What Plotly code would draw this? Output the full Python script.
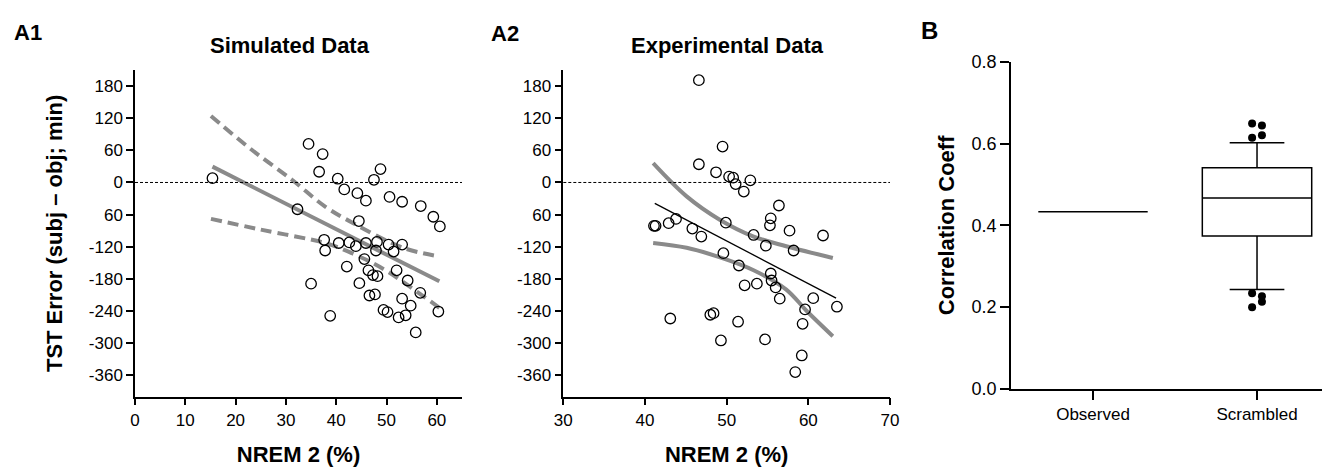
import plotly.graph_objects as go

# page body has an 8px default margin; size the figure so it fills the 1330x470 window exactly
OFF = 8
W, H = 1330 - OFF, 470 - OFF

# ---------------- data ----------------
sim_x = [15.4, 34.5, 37.3, 36.6, 40.3, 41.6, 44.2, 45.9, 47.5, 48.8, 50.6, 53.1, 56.8, 59.3, 60.6,
         32.3, 44.5, 37.6, 37.8, 40.5, 42.6, 43.9, 45.9, 48.1, 47.9, 50.4, 51.4, 53.1, 45.6, 42.1,
         46.4, 47.3, 48.2, 52.0, 54.2, 44.6, 35.0, 56.7, 46.6, 47.7, 53.1, 54.8, 49.4, 50.2, 60.3,
         38.8, 52.4, 53.8, 55.8]
sim_y = [8, 72, 53, 20, 7, -13, -20, -34, 5, 25, -27, -36, -44, -64, -82,
         -50, -72, -107, -127, -113, -112, -119, -113, -111, -127, -116, -129, -116, -143, -157,
         -164, -173, -175, -164, -183, -188, -189, -206, -211, -209, -217, -230, -238, -242, -241,
         -249, -252, -248, -280]

sim_fit_x = [15.4, 60.5]
sim_fit_y = [29.6, -184.6]
sim_hi_x = [15.1, 23.2, 31.2, 37.8, 43.4, 53.3, 60.5]
sim_hi_y = [124, 61, 5, -45, -76, -122, -138]
sim_lo_x = [15.1, 25.0, 37.0, 40.0, 45.0, 50.0, 54.7, 60.5]
sim_lo_y = [-68, -88, -111, -120, -140, -165, -195, -234]

exp_x = [46.6, 49.5, 46.6, 48.7, 50.3, 50.8, 51.1, 52.9, 52.1, 56.4, 55.4, 55.3, 57.7, 61.8, 41.1,
         41.3, 42.9, 43.8, 45.8, 46.9, 49.9, 53.3, 54.8, 58.2, 49.6, 51.5, 55.4, 55.5, 53.7, 52.2,
         56.0, 56.5, 60.6, 59.6, 63.5, 43.1, 48.0, 48.4, 51.4, 59.3, 49.3, 54.7, 59.2, 58.4]
exp_y = [191, 67, 34, 19, 11, 9, -3, 4, -17, -43, -67, -80, -90, -99, -81,
         -81, -76, -68, -86, -101, -75, -98, -118, -127, -132, -155, -170, -183, -189, -192,
         -196, -217, -216, -237, -232, -254, -247, -244, -260, -264, -295, -293, -323, -354]

exp_fit_x = [41.2, 63.4]
exp_fit_y = [-39, -216]
exp_hi_x = [41.0, 45.1, 49.2, 53.3, 57.3, 63.0]
exp_hi_y = [36, -26, -70, -101, -119, -141]
exp_lo_x = [41.0, 45.1, 49.2, 53.3, 57.3, 59.8, 63.0]
exp_lo_y = [-113, -122, -140, -164, -200, -240, -287]

y_tickvals = [180, 120, 60, 0, -60, -120, -180, -240, -300, -360]
y_ticktext = ["180", "120", "60", "0", "60", "-120", "-180", "-240", "-300", "-360"]

box_categories = ["Observed", "Scrambled"]
observed_r = 0.433
scr_q1, scr_median, scr_q3 = 0.374, 0.467, 0.541
scr_lowfence, scr_upfence = 0.243, 0.602
scr_out_x = [0.97, 1.03, 0.97, 1.03, 0.97, 1.03, 1.03, 0.97]
scr_out_y = [0.649, 0.644, 0.614, 0.620, 0.234, 0.227, 0.213, 0.200]

# ---------------- style ----------------
FONT = "Liberation Sans, Arial, sans-serif"
GRAY = "#8a8a8a"

def px_x(p):
    return (p - OFF) / W

def px_y(p):
    return 1 - (p - OFF) / H

fig = go.Figure()

circle = dict(symbol="circle-open", size=10.5, color="black", line=dict(width=1.3, color="black"))

# A1
fig.add_trace(go.Scatter(x=sim_hi_x, y=sim_hi_y, mode="lines", line=dict(color=GRAY, width=4, dash="11px,6px", shape="spline"),
                         xaxis="x", yaxis="y", showlegend=False))
fig.add_trace(go.Scatter(x=sim_lo_x, y=sim_lo_y, mode="lines", line=dict(color=GRAY, width=4, dash="11px,6px", shape="spline"),
                         xaxis="x", yaxis="y", showlegend=False))
fig.add_trace(go.Scatter(x=sim_fit_x, y=sim_fit_y, mode="lines", line=dict(color=GRAY, width=4),
                         xaxis="x", yaxis="y", showlegend=False))
fig.add_trace(go.Scatter(x=sim_x, y=sim_y, mode="markers", marker=circle, xaxis="x", yaxis="y", showlegend=False))

# A2
fig.add_trace(go.Scatter(x=exp_hi_x, y=exp_hi_y, mode="lines", line=dict(color=GRAY, width=4, shape="spline"),
                         xaxis="x2", yaxis="y2", showlegend=False))
fig.add_trace(go.Scatter(x=exp_lo_x, y=exp_lo_y, mode="lines", line=dict(color=GRAY, width=4, shape="spline"),
                         xaxis="x2", yaxis="y2", showlegend=False))
fig.add_trace(go.Scatter(x=exp_fit_x, y=exp_fit_y, mode="lines", line=dict(color="black", width=1.3),
                         xaxis="x2", yaxis="y2", showlegend=False))
fig.add_trace(go.Scatter(x=exp_x, y=exp_y, mode="markers", marker=circle, xaxis="x2", yaxis="y2", showlegend=False))

# B
fig.add_trace(go.Box(x=[0], q1=[observed_r], median=[observed_r], q3=[observed_r],
                     lowerfence=[observed_r], upperfence=[observed_r], width=0.667,
                     line=dict(color="black", width=1.5), fillcolor="white", boxpoints=False,
                     xaxis="x3", yaxis="y3", showlegend=False))
fig.add_trace(go.Box(x=[1], q1=[scr_q1], median=[scr_median], q3=[scr_q3],
                     lowerfence=[scr_lowfence], upperfence=[scr_upfence], width=0.667, whiskerwidth=0.5,
                     line=dict(color="black", width=1.5), fillcolor="white", boxpoints=False,
                     xaxis="x3", yaxis="y3", showlegend=False))
fig.add_trace(go.Scatter(x=scr_out_x, y=scr_out_y, mode="markers",
                         marker=dict(size=8, color="black"), xaxis="x3", yaxis="y3", showlegend=False))

axis_common = dict(showline=True, linecolor="black", linewidth=1.5, ticks="outside", ticklen=7,
                   tickwidth=1.5, tickcolor="black", showgrid=False, zeroline=False, automargin=False,
                   tickfont=dict(family=FONT, size=17, color="black"))
title_font = dict(family=FONT, size=22, color="black", weight="bold")

yA_dom = [px_y(396.7), px_y(70)]
fig.update_layout(
    width=W, height=H, margin=dict(l=0, r=0, t=0, b=0, autoexpand=False),
    paper_bgcolor="white", plot_bgcolor="white",
    xaxis=dict(domain=[px_x(135), px_x(462)], range=[0, 65], tickvals=[0, 10, 20, 30, 40, 50, 60],
               anchor="y", title=dict(text="NREM 2 (%)", font=title_font, standoff=18), **axis_common),
    yaxis=dict(domain=yA_dom, range=[-400, 210], tickvals=y_tickvals, ticktext=y_ticktext,
               anchor="x", title=dict(text="TST Error (subj \u2013 obj; min)", font=title_font, standoff=20), **axis_common),
    xaxis2=dict(domain=[px_x(563.3), px_x(890)], range=[30, 70], tickvals=[30, 40, 50, 60, 70],
                anchor="y2", title=dict(text="NREM 2 (%)", font=title_font, standoff=18), **axis_common),
    yaxis2=dict(domain=yA_dom, range=[-400, 210], tickvals=y_tickvals, ticktext=y_ticktext,
                anchor="x2", **axis_common),
    xaxis3=dict(domain=[px_x(1011), 1.0], range=[-0.5, 1.445], tickvals=[0, 1], ticktext=box_categories,
                anchor="y3", **{**axis_common, "ticklen": 9}),
    yaxis3=dict(domain=[px_y(389), px_y(61.7)], range=[0, 0.8], tickvals=[0, 0.2, 0.4, 0.6, 0.8],
                tickformat=".1f", anchor="x3",
                title=dict(text="Correlation Coeff", font=title_font, standoff=11),
                **{**axis_common, "ticklen": 9, "tickfont": dict(family=FONT, size=18, color="black")}),
)

# zero reference lines
for xr, yr in [("x", "y"), ("x2", "y2")]:
    fig.add_shape(type="line", xref=f"{xr} domain", yref=yr, x0=0, x1=1, y0=0, y1=0,
                  line=dict(color="black", width=1, dash="3px,2px"))

# titles and panel labels
ann = [
    dict(text="Simulated Data", x=px_x(289.5), y=px_y(46), font=dict(family=FONT, size=22, color="black", weight="bold")),
    dict(text="Experimental Data", x=px_x(727.7), y=px_y(46), font=dict(family=FONT, size=22, color="black", weight="bold")),
    dict(text="A1", x=px_x(28), y=px_y(32), font=dict(family=FONT, size=22, color="black", weight="bold")),
    dict(text="A2", x=px_x(505), y=px_y(33), font=dict(family=FONT, size=22, color="black", weight="bold")),
    dict(text="B", x=px_x(929), y=px_y(30), font=dict(family=FONT, size=24, color="black", weight="bold")),
]
for a in ann:
    fig.add_annotation(xref="paper", yref="paper", xanchor="center", yanchor="middle", showarrow=False, **a)

fig.write_html("out.html")
